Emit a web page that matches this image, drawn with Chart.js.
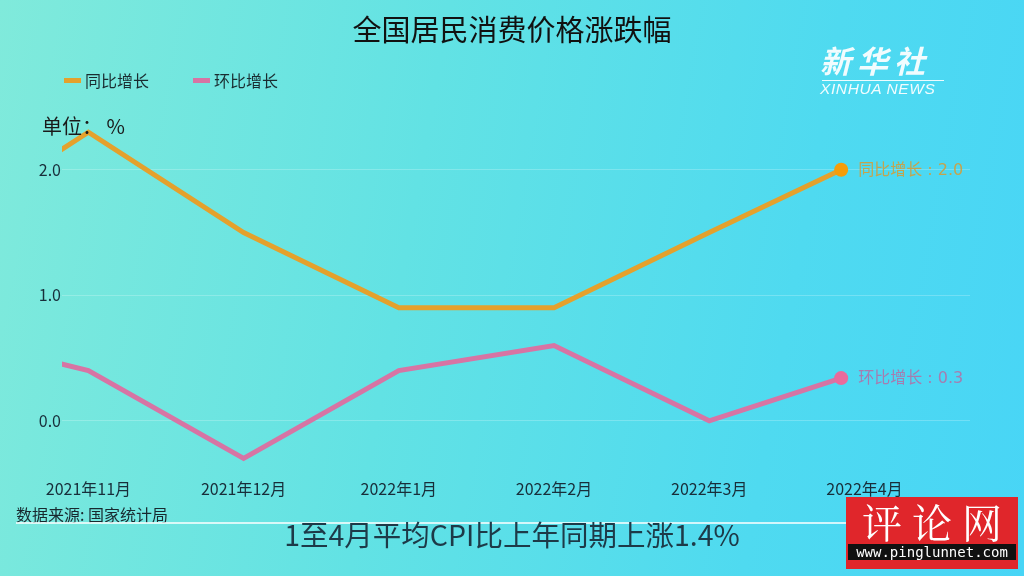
<!DOCTYPE html>
<html>
<head>
<meta charset="utf-8">
<script src="https://cdn.jsdelivr.net/npm/chart.js@4"></script>
<style>
  html, body { margin:0; padding:0; }
  body { width:1024px; height:576px; overflow:hidden; position:relative;
         font-family:"Noto Sans CJK SC","Noto Sans",sans-serif;
         background: linear-gradient(100deg, #80eadb 0%, #62e2e4 40%, #4fdaf0 75%, #48d5f6 100%); }
  #wrap { position:absolute; left:0; top:0; width:1024px; height:576px; }
  .abs { position:absolute; white-space:nowrap; }
  #title { left:0; width:1024px; top:9px; text-align:center; font-size:29px; color:#111; line-height:38px; }
  .leg { top:69px; font-size:16px; color:#1a2c30; line-height:22px; }
  .sw { display:inline-block; width:17px; height:5px; vertical-align:middle; margin-right:4px; position:relative; top:-2px; }
  #unit { left:42px; top:112px; font-size:20px; color:#1a1a1a; line-height:28px; }
  #source { left:16px; top:503px; font-size:16px; color:#18282e; line-height:22px; }
  #rule { left:16px; top:522px; width:840px; height:2px; background:rgba(255,255,255,0.75); }
  #sub { left:0; width:1024px; top:515px; text-align:center; font-size:28.5px; color:#1d3a48; line-height:38px; }
  #logo1 { left:820px; top:40px; font-size:31px; font-style:italic; font-weight:bold; color:rgba(255,255,255,0.92); letter-spacing:6px; line-height:40px; }
  #logoLine { left:822px; top:80px; width:122px; height:1px; background:rgba(255,255,255,0.9); }
  #logo2 { left:820px; top:80px; font-size:15.5px; font-style:italic; color:rgba(255,255,255,0.92); line-height:18px; letter-spacing:0.6px; font-family:"Liberation Sans",sans-serif; }
  #wm { left:846px; top:497px; width:172px; height:72px; background:#e0262b; }
  #wmText { position:absolute; left:0; top:0; width:172px; text-align:center; font-size:40px; color:#fff; line-height:48px; letter-spacing:10px; text-indent:10px; font-family:"Noto Serif CJK SC","Noto Sans CJK SC",serif; }
  #wmStrip { position:absolute; left:2px; top:47px; width:168px; height:16px; background:#111; color:#fff; font-family:"DejaVu Sans Mono","Liberation Mono",monospace; font-size:14px; line-height:16px; text-align:center; }
</style>
</head>
<body>
<div id="wrap"><canvas id="c" width="1024" height="576"></canvas></div>
<div id="title" class="abs">全国居民消费价格涨跌幅</div>
<div class="abs leg" style="left:64px;"><span class="sw" style="background:#e4a12c"></span>同比增长</div>
<div class="abs leg" style="left:193px;"><span class="sw" style="background:#d774a4"></span>环比增长</div>
<div id="unit" class="abs">单位：&nbsp;%</div>
<div id="logo1" class="abs">新华社</div>
<div id="logoLine" class="abs"></div>
<div id="logo2" class="abs">XINHUA NEWS</div>
<div id="source" class="abs">数据来源: 国家统计局</div>
<div id="rule" class="abs"></div>
<div id="sub" class="abs">1至4月平均CPI比上年同期上涨1.4%</div>
<div id="wm" class="abs"><div id="wmText">评论网</div><div id="wmStrip">www.pinglunnet.com</div></div>
<script>
// ---- data ----
const categories = ['2021年11月', '2021年12月', '2022年1月', '2022年2月', '2022年3月', '2022年4月'];
// month index relative to 2021年11月 (−1 = 2021年10月, last point = current frame end)
const monthIndex = [-1, 0, 1, 2, 3, 4, 4.85];
const yoyValues = [1.5, 2.3, 1.5, 0.9, 0.9, 1.5, 2.0];
const momValues = [0.7, 0.4, -0.3, 0.4, 0.6, 0.0, 0.34];
const seriesNames = ['同比增长', '环比增长'];
const yTicks = [0, 1, 2];

const toPoints = vals => vals.map((v, i) => ({ x: monthIndex[i], y: v }));
const lastIdx = monthIndex.length - 1;

const endLabels = {
  id: 'endLabels',
  afterDatasetsDraw(chart) {
    const ctx = chart.ctx;
    ctx.save();
    ctx.font = '16px "DejaVu Sans", "Noto Sans CJK SC", sans-serif';
    ctx.textBaseline = 'middle';
    ctx.textAlign = 'left';
    chart.data.datasets.forEach((ds, i) => {
      const meta = chart.getDatasetMeta(i);
      const el = meta.data[lastIdx];
      const v = ds.data[lastIdx].y;
      ctx.fillStyle = ds.labelColor;
      ctx.fillText(ds.label + ' : ' + v.toFixed(1), el.x + 17, el.y + 1);
    });
    ctx.restore();
  }
};

new Chart(document.getElementById('c'), {
  type: 'line',
  data: {
    datasets: [
      { label: seriesNames[0], data: toPoints(yoyValues), borderColor: '#e4a12c', borderWidth: 5,
        pointBackgroundColor: '#f59d0a', pointBorderWidth: 0, labelColor: '#c4a44e',
        pointRadius: c => c.dataIndex === lastIdx ? 7 : 0, pointHoverRadius: 0,
        tension: 0, clip: 0 },
      { label: seriesNames[1], data: toPoints(momValues), borderColor: '#d774a4', borderWidth: 5,
        pointBackgroundColor: '#ea6a9c', pointBorderWidth: 0, labelColor: '#a57db0',
        pointRadius: c => c.dataIndex === lastIdx ? 7 : 0, pointHoverRadius: 0,
        tension: 0, clip: 0 }
    ]
  },
  options: {
    responsive: true, maintainAspectRatio: false, animation: false,
    layout: { padding: { left: 0, right: 54, top: 107, bottom: 75 } },
    plugins: { legend: { display: false }, title: { display: false }, tooltip: { enabled: false } },
    scales: {
      x: {
        type: 'linear', min: -0.17, max: 5.68,
        afterBuildTicks: s => { s.ticks = categories.map((c, i) => ({ value: i })); },
        afterFit: s => { s.height = 30; },
        grid: { display: false, drawTicks: false }, border: { display: false },
        ticks: { autoSkip: false, maxRotation: 0, padding: 8, color: '#182e3a',
                 font: { size: 16, family: '"Noto Sans CJK SC", sans-serif' },
                 callback: v => categories[v] }
      },
      y: {
        min: -0.4, max: 2.5,
        afterBuildTicks: s => { s.ticks = yTicks.map(v => ({ value: v })); },
        afterFit: s => { s.width = 62; },
        grid: { color: 'rgba(255,255,255,0.22)', lineWidth: 1, drawTicks: false }, border: { display: false },
        ticks: { padding: 1, color: '#182e3a', font: { size: 16, family: '"Noto Sans CJK SC", sans-serif' },
                 callback: v => Number(v).toFixed(1) }
      }
    }
  },
  plugins: [endLabels]
});
</script>
</body>
</html>
